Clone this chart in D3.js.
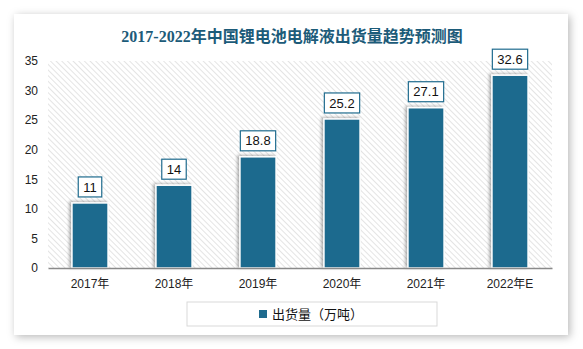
<!DOCTYPE html>
<html>
<head>
<meta charset="utf-8">
<script src="https://cdn.jsdelivr.net/npm/d3@7"></script>
<style>
  html, body { margin: 0; padding: 0; background: #fff; }
  svg { display: block; }
</style>
</head>
<body>
<svg id="chart" width="583" height="349"></svg>
<script>
// Electrolyte shipments, 10k tonnes
const years = ["2017年", "2018年", "2019年", "2020年", "2021年", "2022年E"];
const shipments = [11, 14, 18.8, 25.2, 27.1, 32.6];
const yTicks = [0, 5, 10, 15, 20, 25, 30, 35];
const titleText = "2017-2022年中国锂电池电解液出货量趋势预测图";
const legendText = "出货量（万吨）";

const W = 583, H = 349;
const barColor = "#1f6b8e";
const titleColor = "#1c5b79";
const svg = d3.select("#chart");
const defs = svg.append("defs");

// card shadow
const cardShadow = defs.append("filter").attr("id", "cardShadow")
  .attr("x", "-10%").attr("y", "-10%").attr("width", "120%").attr("height", "120%");
cardShadow.append("feDropShadow").attr("dx", 2).attr("dy", 2)
  .attr("stdDeviation", 4).attr("flood-color", "#000").attr("flood-opacity", 0.28);

// bar shadow
const barShadow = defs.append("filter").attr("id", "barShadow")
  .attr("x", "-40%").attr("y", "-20%").attr("width", "160%").attr("height", "140%");
barShadow.append("feDropShadow").attr("dx", -2).attr("dy", -1)
  .attr("stdDeviation", 1.5).attr("flood-color", "#000").attr("flood-opacity", 0.3);

// diagonal hatch for plot background
const hatch = defs.append("pattern").attr("id", "hatch")
  .attr("patternUnits", "userSpaceOnUse").attr("width", 4).attr("height", 4)
  .attr("patternTransform", "rotate(-45)");
hatch.append("rect").attr("width", 4).attr("height", 4).attr("fill", "#fff");
hatch.append("line").attr("x1", 0).attr("y1", 0).attr("x2", 0).attr("y2", 4)
  .attr("stroke", "#d6d6d6").attr("stroke-width", 1.3);

// card
svg.append("rect").attr("x", 14).attr("y", 14).attr("width", 554).attr("height", 321)
  .attr("fill", "#fff").attr("filter", "url(#cardShadow)");

// title
svg.append("text").attr("x", 292).attr("y", 42)
  .attr("text-anchor", "middle")
  .attr("font-family", "'Liberation Serif', 'DejaVu Serif', 'Noto Sans CJK SC', serif")
  .attr("font-weight", "bold").attr("font-size", 16)
  .attr("fill", titleColor).text(titleText);

const plot = { left: 48, right: 552, top: 61, bottom: 268 };

const x = d3.scaleBand().domain(years).range([plot.left, plot.right]).paddingInner(0.57).paddingOuter(0.285);
const y = d3.scaleLinear().domain([0, 35]).range([plot.bottom, plot.top]);

svg.append("rect").attr("x", plot.left).attr("y", plot.top)
  .attr("width", plot.right - plot.left).attr("height", plot.bottom - plot.top)
  .attr("fill", "url(#hatch)");

// y axis labels
const yAxis = svg.append("g").attr("transform", `translate(${plot.left},0)`)
  .call(d3.axisLeft(y).tickValues(yTicks).tickSize(0).tickPadding(10));
yAxis.select(".domain").remove();
yAxis.selectAll("text").attr("font-family", "'Liberation Sans', Arial, sans-serif")
  .attr("font-size", 12).attr("fill", "#222");

// bars
svg.append("g").selectAll("rect").data(shipments).join("rect")
  .attr("x", (d, i) => x(years[i]))
  .attr("y", d => y(d))
  .attr("width", x.bandwidth())
  .attr("height", d => y(0) - y(d))
  .attr("fill", barColor)
  .attr("stroke", "#fff").attr("stroke-width", 1.5)
  .attr("filter", "url(#barShadow)");

// x axis
const xAxis = svg.append("g").attr("transform", `translate(0,${plot.bottom})`)
  .call(d3.axisBottom(x).tickSize(0).tickPadding(11));
xAxis.select(".domain").attr("stroke", "#8a8a8a").attr("stroke-width", 1.5);
xAxis.selectAll("text").attr("font-family", "'Liberation Sans', 'Noto Sans CJK SC', sans-serif")
  .attr("font-size", 12).attr("fill", "#222");

// value labels in boxes
const labels = svg.append("g").selectAll("g").data(shipments).join("g")
  .attr("transform", (d, i) => `translate(${x(years[i]) + x.bandwidth() / 2},${y(d) - 16})`);
labels.append("text")
  .attr("text-anchor", "middle").attr("dy", "0.35em")
  .attr("font-family", "'Liberation Sans', Arial, sans-serif")
  .attr("font-size", 13).attr("fill", "#111")
  .text(d => d);
labels.each(function () {
  const g = d3.select(this);
  const bb = g.select("text").node().getBBox();
  g.insert("rect", "text")
    .attr("x", bb.x - 5).attr("y", -10)
    .attr("width", bb.width + 10).attr("height", 20)
    .attr("fill", "#fff").attr("stroke", "#1f6b8e").attr("stroke-width", 1.2);
});

// legend
const legend = svg.append("g");
legend.append("rect").attr("x", 187).attr("y", 302).attr("width", 250).attr("height", 24)
  .attr("fill", "#fff").attr("stroke", "#d9d9d9").attr("stroke-width", 1);
legend.append("rect").attr("x", 259).attr("y", 310).attr("width", 8).attr("height", 8)
  .attr("fill", barColor);
legend.append("text").attr("x", 272).attr("y", 318.5)
  .attr("font-family", "'Noto Sans CJK SC', sans-serif")
  .attr("font-size", 13).attr("fill", "#111").text(legendText);
</script>
</body>
</html>
